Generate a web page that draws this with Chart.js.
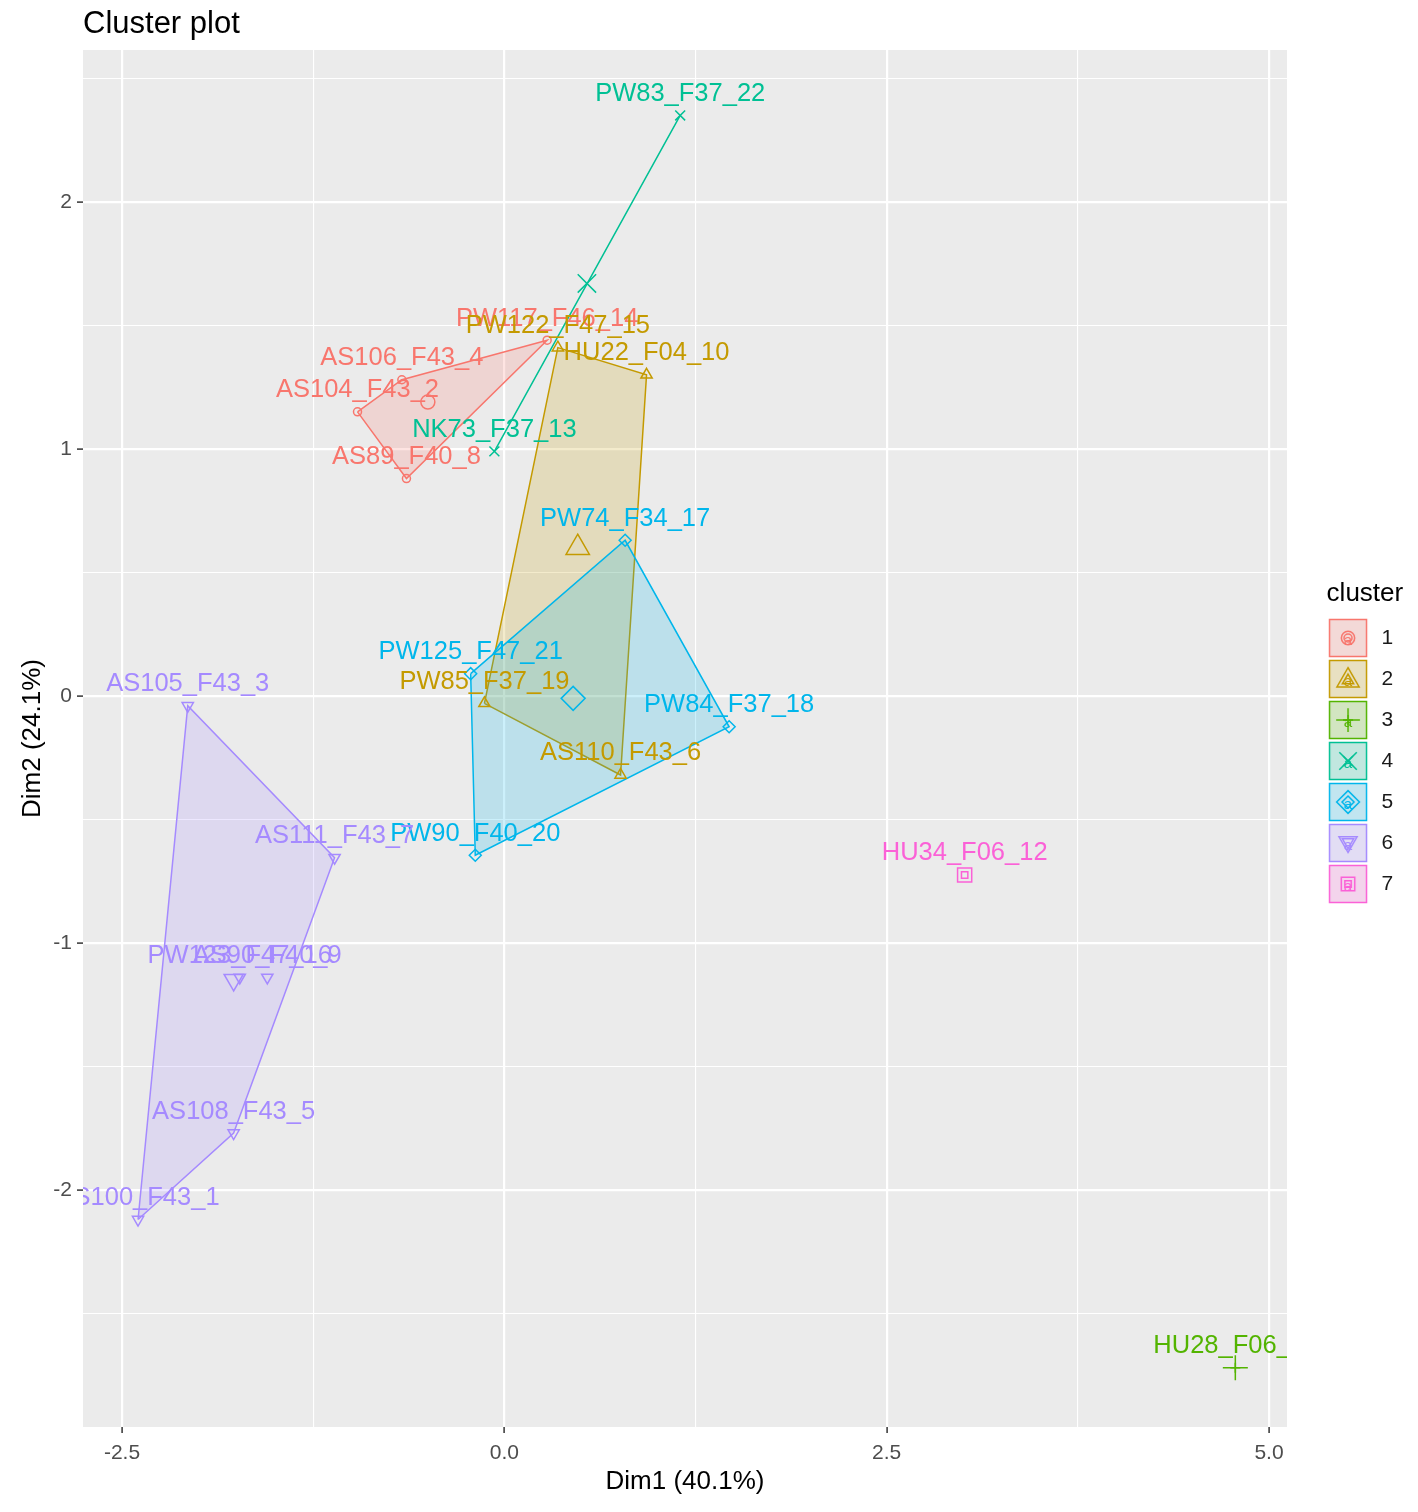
<!DOCTYPE html>
<html lang="en">
<head>
  <meta charset="UTF-8">
  <title>Cluster plot</title>
  <script src="https://cdn.jsdelivr.net/npm/chart.js"></script>
  <style>
    html, body { margin: 0; padding: 0; background: #fff; }
    #wrap { width: 1418px; height: 1512px; }
  </style>
</head>
<body>
  <div id="wrap"><canvas id="clusterCanvas" width="1418" height="1512"></canvas></div>

  <script>
    // clusters (ggplot default hue palette)
    const clusterIds = [1, 2, 3, 4, 5, 6, 7];
    const clusterColors = ['#F8766D', '#C49A00', '#53B400', '#00C094', '#00B6EB', '#A58AFF', '#FB61D7'];

    // individuals on the first two dimensions
    const pointNames = [
      'PW117_F46_14', 'AS106_F43_4', 'AS104_F43_2', 'AS89_F40_8',
      'PW122_F47_15', 'HU22_F04_10', 'PW85_F37_19', 'AS110_F43_6',
      'HU28_F06_11',
      'PW83_F37_22', 'NK73_F37_13',
      'PW74_F34_17', 'PW125_F47_21', 'PW84_F37_18', 'PW90_F40_20',
      'AS105_F43_3', 'AS111_F43_7', 'PW123_F47_16', 'AS90_F40_9', 'AS108_F43_5', 'AS100_F43_1',
      'HU34_F06_12'
    ];
    const pointCluster = [1, 1, 1, 1, 2, 2, 2, 2, 3, 4, 4, 5, 5, 5, 5, 6, 6, 6, 6, 6, 6, 7];
    const dim1 = [0.28, -0.67, -0.96, -0.64, 0.35, 0.93, -0.13, 0.76, 4.78, 1.15, -0.065,
                  0.79, -0.22, 1.47, -0.19, -2.07, -1.11, -1.73, -1.55, -1.77, -2.395, 3.01];
    const dim2 = [1.44, 1.28, 1.15, 0.88, 1.41, 1.30, -0.03, -0.32, -2.72, 2.35, 0.99,
                  0.63, 0.09, -0.125, -0.645, -0.04, -0.655, -1.14, -1.14, -1.77, -2.12, -0.725];

    // cluster centres
    const centerDim1 = [-0.50, 0.48, 4.78, 0.54, 0.45, -1.77, 3.01];
    const centerDim2 = [1.19, 0.60, -2.72, 1.67, -0.01, -1.15, -0.725];

    // axes
    const xTicks = [-2.5, -1.25, 0, 1.25, 2.5, 3.75, 5];
    const xTickLabels = ['-2.5', '', '0.0', '', '2.5', '', '5.0'];
    const yTicks = [-2.5, -2, -1.5, -1, -0.5, 0, 0.5, 1, 1.5, 2, 2.5];
    const yTickLabels = ['', '-2', '', '-1', '', '0', '', '1', '', '2', ''];

    // marker styles per cluster
    const shapes = ['circle', 'triangle', 'cross', 'crossRot', 'rectRot', 'triangle', 'rect'];
    const rotations = [0, 0, 0, 0, 0, 180, 0];
    const smallRadius = [4, 6.5, 5, 7, 6, 6.5, 4.5];
    const bigRadius = [7, 13.5, 12.5, 13, 12, 11, 10];

    const FONT = '"Liberation Sans", Arial, sans-serif';

    function rgba(hex, a) {
      const n = parseInt(hex.slice(1), 16);
      return `rgba(${n >> 16}, ${(n >> 8) & 255}, ${n & 255}, ${a})`;
    }

    function convexHull(pts) {
      const p = pts.slice().sort((a, b) => a.x - b.x || a.y - b.y);
      if (p.length < 3) return p;
      const cross = (o, a, b) => (a.x - o.x) * (b.y - o.y) - (a.y - o.y) * (b.x - o.x);
      const lower = [];
      for (const q of p) {
        while (lower.length >= 2 && cross(lower[lower.length - 2], lower[lower.length - 1], q) <= 0) lower.pop();
        lower.push(q);
      }
      const upper = [];
      for (let i = p.length - 1; i >= 0; i--) {
        const q = p[i];
        while (upper.length >= 2 && cross(upper[upper.length - 2], upper[upper.length - 1], q) <= 0) upper.pop();
        upper.push(q);
      }
      lower.pop();
      upper.pop();
      return lower.concat(upper);
    }

    // build datasets: hull polygon, members, centre for each cluster
    const datasets = [];
    clusterIds.forEach((id, k) => {
      const color = clusterColors[k];
      const members = [];
      const names = [];
      pointCluster.forEach((c, i) => {
        if (c === id) {
          members.push({ x: dim1[i], y: dim2[i] });
          names.push(pointNames[i]);
        }
      });

      if (members.length > 1) {
        const hull = convexHull(members);
        datasets.push({
          data: hull.concat([hull[0]]),
          showLine: true,
          fill: 'shape',
          tension: 0,
          borderColor: color,
          borderWidth: 1.5,
          backgroundColor: rgba(color, 0.2),
          pointRadius: 0,
          order: 100 - k
        });
      }

      datasets.push({
        data: members,
        pointLabels: names,
        labelColor: color,
        pointStyle: shapes[k],
        rotation: rotations[k],
        radius: smallRadius[k],
        borderColor: color,
        backgroundColor: 'rgba(0,0,0,0)',
        borderWidth: 1.5,
        order: 50 - k
      });

      datasets.push({
        data: [{ x: centerDim1[k], y: centerDim2[k] }],
        pointStyle: shapes[k],
        rotation: rotations[k],
        radius: bigRadius[k],
        borderColor: color,
        backgroundColor: 'rgba(0,0,0,0)',
        borderWidth: 1.5,
        order: 40 - k
      });
    });

    // legend keys: grey key box, tinted fill, small + big marker and the "a" of the text layer
    function legendKey(k) {
      const c = document.createElement('canvas');
      c.width = 64;
      c.height = 40;
      const g = c.getContext('2d');
      const color = clusterColors[k];
      g.fillStyle = '#F2F2F2';
      g.fillRect(22.5, 1.5, 37, 37);
      g.fillStyle = rgba(color, 0.2);
      g.fillRect(22.5, 1.5, 37, 37);
      g.strokeStyle = color;
      g.lineWidth = 1.5;
      g.strokeRect(22.5, 1.5, 37, 37);
      g.fillStyle = 'rgba(0,0,0,0)';
      g.lineWidth = 1.5;
      const cy = rotations[k] ? 19 : (shapes[k] === 'triangle' ? 21.5 : 20);
      Chart.helpers.drawPoint(g, { pointStyle: shapes[k], rotation: rotations[k], radius: bigRadius[k] * 0.95, borderWidth: 1.5 }, 41, cy);
      Chart.helpers.drawPoint(g, { pointStyle: shapes[k], rotation: rotations[k], radius: smallRadius[k], borderWidth: 1.5 }, 41, cy);
      g.fillStyle = color;
      g.font = '15px ' + FONT;
      g.textAlign = 'center';
      g.textBaseline = 'middle';
      g.fillText('a', 41, 23);
      return c;
    }
    const legendKeys = clusterIds.map((id, k) => legendKey(k));

    // panel background
    const panelBackground = {
      id: 'panelBackground',
      beforeDraw(chart) {
        const { ctx, chartArea: a } = chart;
        ctx.save();
        ctx.fillStyle = '#FFFFFF';
        ctx.fillRect(0, 0, chart.width, chart.height);
        ctx.fillStyle = '#EBEBEB';
        ctx.fillRect(a.left, a.top, a.right - a.left, a.bottom - a.top);
        ctx.restore();
      }
    };

    // text labels above the individuals, clipped to the panel
    const pointLabels = {
      id: 'pointLabels',
      afterDatasetsDraw(chart) {
        const { ctx, chartArea: a } = chart;
        ctx.save();
        ctx.beginPath();
        ctx.rect(a.left, a.top, a.right - a.left, a.bottom - a.top);
        ctx.clip();
        ctx.font = '25.5px ' + FONT;
        ctx.textAlign = 'center';
        ctx.textBaseline = 'middle';
        chart.data.datasets.forEach((ds, i) => {
          if (!ds.pointLabels) return;
          const meta = chart.getDatasetMeta(i);
          ctx.fillStyle = ds.labelColor;
          meta.data.forEach((el, j) => {
            ctx.fillText(ds.pointLabels[j], el.x, el.y - 21.5);
          });
        });
        ctx.restore();
      }
    };

    // plot title aligned with the panel
    const plotTitle = {
      id: 'plotTitle',
      afterDraw(chart) {
        const { ctx, chartArea: a } = chart;
        ctx.save();
        ctx.fillStyle = '#000000';
        ctx.font = '31px ' + FONT;
        ctx.textAlign = 'left';
        ctx.textBaseline = 'middle';
        ctx.fillText('Cluster plot', a.left, 24);
        ctx.restore();
      }
    };

    const isMajorX = v => Math.abs(v / 2.5 - Math.round(v / 2.5)) < 1e-6;
    const isMajorY = v => Math.abs(v - Math.round(v)) < 1e-6;

    new Chart(document.getElementById('clusterCanvas'), {
      type: 'scatter',
      data: { datasets },
      plugins: [panelBackground, pointLabels, plotTitle],
      options: {
        responsive: false,
        animation: false,
        devicePixelRatio: 1,
        events: [],
        layout: { padding: { top: 50, right: 14.8, left: 0, bottom: 0 } },
        scales: {
          x: {
            type: 'linear',
            min: -2.755,
            max: 5.118,
            bounds: 'data',
            afterBuildTicks: s => { s.ticks = xTicks.map(v => ({ value: v })); },
            afterFit: s => { s.height = 85; },
            border: { display: false },
            grid: {
              color: '#FFFFFF',
              lineWidth: c => (c.tick && isMajorX(c.tick.value) ? 2.2 : 1.1),
              tickColor: c => (c.tick && isMajorX(c.tick.value) ? '#333333' : 'rgba(0,0,0,0)'),
              tickLength: 6,
              tickWidth: 1.5
            },
            ticks: {
              autoSkip: false,
              maxRotation: 0,
              padding: 8,
              color: '#4D4D4D',
              font: { family: FONT, size: 21 },
              callback: (v, i) => xTickLabels[i]
            },
            title: {
              display: true,
              text: 'Dim1 (40.1%)',
              color: '#000000',
              font: { family: FONT, size: 26 },
              padding: { top: 0, bottom: 14.4 }
            }
          },
          y: {
            type: 'linear',
            min: -2.96,
            max: 2.615,
            bounds: 'data',
            afterBuildTicks: s => { s.ticks = yTicks.map(v => ({ value: v })); },
            afterFit: s => { s.width = 83; },
            border: { display: false },
            grid: {
              color: '#FFFFFF',
              lineWidth: c => (c.tick && isMajorY(c.tick.value) ? 2.2 : 1.1),
              tickColor: c => (c.tick && isMajorY(c.tick.value) ? '#333333' : 'rgba(0,0,0,0)'),
              tickLength: 6,
              tickWidth: 1.5
            },
            ticks: {
              autoSkip: false,
              padding: 5,
              color: '#4D4D4D',
              font: { family: FONT, size: 21 },
              callback: (v, i) => yTickLabels[i]
            },
            title: {
              display: true,
              text: 'Dim2 (24.1%)',
              color: '#000000',
              font: { family: FONT, size: 26 },
              padding: { top: 17.4, bottom: 0 }
            }
          }
        },
        plugins: {
          tooltip: { enabled: false },
          legend: {
            position: 'right',
            align: 'center',
            fullSize: false,
            onClick: null,
            title: {
              display: true,
              text: 'cluster',
              position: 'end',
              color: '#000000',
              font: { family: FONT, size: 26, lineHeight: 1 },
              padding: { top: 18.5, bottom: 0.5 }
            },
            labels: {
              usePointStyle: true,
              pointStyleWidth: 64,
              padding: 20,
              color: '#1A1A1A',
              font: { family: FONT, size: 21 },
              generateLabels: () => clusterIds.map((id, k) => ({
                text: String(id),
                pointStyle: legendKeys[k],
                fillStyle: clusterColors[k],
                strokeStyle: clusterColors[k],
                lineWidth: 0,
                hidden: false,
                fontColor: '#1A1A1A'
              }))
            }
          }
        }
      }
    });
  </script>
</body>
</html>
